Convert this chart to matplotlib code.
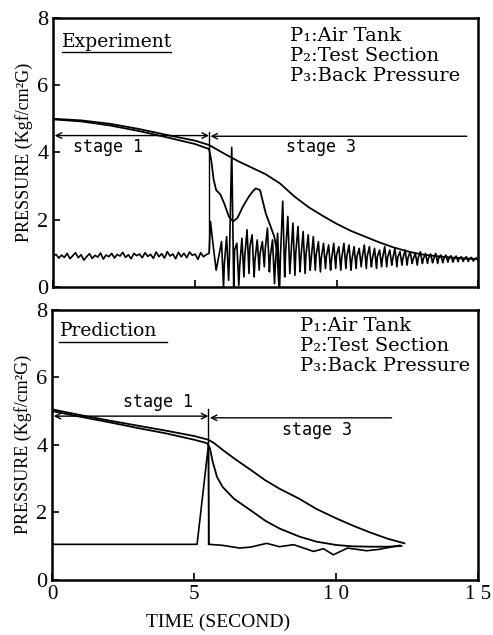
import numpy as np
import matplotlib
matplotlib.use("Agg")
import matplotlib.pyplot as plt

SERIF = ["Liberation Serif", "DejaVu Serif"]
TYPE = ["DejaVu Serif"]
SANSMONO = ["DejaVu Sans Mono"]

# ---------------- Experiment (top panel) ----------------
exp_p1_t = [0, 1, 2, 3, 4, 5, 5.5, 6.0, 6.5, 7.0, 7.5, 8.0, 8.5, 9.0, 9.5, 10.0,
            10.5, 11.0, 11.5, 12.0, 12.5, 13.0, 13.5, 14.0, 14.5, 15.0]
exp_p1 = [5.0, 4.95, 4.85, 4.7, 4.52, 4.35, 4.22, 3.98, 3.75, 3.55, 3.35, 3.08, 2.7, 2.38,
          2.12, 1.88, 1.67, 1.5, 1.33, 1.18, 1.06, 0.97, 0.92, 0.88, 0.85, 0.83]

exp_p2_t = [0, 1, 2, 3, 4, 5, 5.5, 5.58, 5.66, 5.75, 5.9, 6.05, 6.2, 6.35, 6.5, 6.7,
            6.9, 7.05, 7.15, 7.3, 7.5, 7.65, 7.8, 7.9, 7.97]
exp_p2 = [4.98, 4.92, 4.8, 4.64, 4.45, 4.25, 4.1, 3.75, 3.2, 2.88, 2.75, 2.45, 2.09, 1.95,
          2.05, 2.4, 2.68, 2.85, 2.93, 2.88, 2.19, 1.85, 1.5, 1.05, 0.0]

# back pressure before the shock (t = 0 .. 5.4)
exp_p3_pre = [0.92, 0.97, 0.86, 0.95, 0.88, 1.0, 0.84, 0.93, 1.02, 0.87, 0.96, 0.8, 0.9,
              0.99, 0.85, 0.94, 0.89, 1.01, 0.83, 0.95, 0.9, 1.0, 0.86, 0.97, 0.92, 1.03,
              0.88, 0.96, 0.84, 1.0, 0.93, 0.98, 0.87, 1.02, 0.91, 0.97, 0.85, 1.04, 0.9,
              0.99, 0.86, 1.05, 0.92, 0.98, 0.84, 1.03, 0.9, 1.0, 0.87, 1.04, 0.94, 0.98,
              0.82, 1.02, 0.9, 0.96]
exp_p3_jump_t = [5.5, 5.55, 5.65, 5.75]
exp_p3_jump = [1.0, 1.95, 1.2, 0.5]
# oscillation after the shock: peaks and troughs
exp_p3_peak = [1.35, 1.5, 4.15, 1.3, 1.45, 1.7, 1.55, 1.4, 1.35, 1.75, 1.4, 1.6, 2.55, 2.1,
               1.9, 1.8, 1.65, 1.55, 1.5, 1.35, 1.3, 1.25, 1.3, 1.2, 1.3, 1.25, 1.2, 1.15,
               1.25, 1.2, 1.15, 1.1, 1.2, 1.1, 1.15, 1.05, 1.1, 1.05, 1.0, 1.05, 1.0, 0.98,
               1.0, 0.95, 0.95, 0.93, 0.92, 0.9, 0.9, 0.88, 0.87]
exp_p3_trough = [0.0, 0.2, 0.0, 0.05, 0.3, 0.4, 0.3, 0.5, 0.6, 0.45, 0.1, 0.0, 0.3, 0.4,
                 0.35, 0.45, 0.4, 0.5, 0.5, 0.45, 0.55, 0.5, 0.55, 0.5, 0.55, 0.5, 0.55, 0.6,
                 0.55, 0.6, 0.55, 0.6, 0.6, 0.65, 0.6, 0.65, 0.65, 0.7, 0.65, 0.7, 0.7, 0.72,
                 0.7, 0.72, 0.74, 0.74, 0.75, 0.76, 0.76, 0.77, 0.78]
# mid-level wobble between each peak and trough
exp_p3_mid = [0.7, 0.9, 1.1, 0.6, 0.9, 1.2, 0.8, 1.0, 1.1, 0.9, 0.7, 0.9, 1.0, 0.8,
              1.0, 0.85, 0.95, 0.8, 0.95, 0.85, 0.9, 0.8, 0.95, 0.85, 0.9, 0.8, 0.9, 0.85,
              0.9, 0.82, 0.9, 0.85, 0.88, 0.82, 0.88, 0.84, 0.86, 0.82, 0.86, 0.83, 0.85, 0.82,
              0.85, 0.83, 0.84, 0.82, 0.84, 0.82, 0.83, 0.82, 0.82]

# ---------------- Prediction (bottom panel) ----------------
pre_p1_t = [0, 1, 2, 3, 4, 5, 5.5, 5.7, 6.0, 6.4, 7.0, 7.5, 8.0, 8.7, 9.3, 10.0, 10.6,
            11.2, 11.8, 12.4]
pre_p1 = [5.05, 4.88, 4.72, 4.57, 4.42, 4.26, 4.15, 4.05, 3.85, 3.6, 3.25, 2.95, 2.7, 2.4,
          2.1, 1.82, 1.6, 1.4, 1.22, 1.08]

pre_p2_t = [0, 1, 2, 3, 4, 5, 5.45, 5.55, 5.65, 5.8, 6.0, 6.4, 7.0, 7.5, 8.0, 8.7, 9.3,
            10.0, 10.6, 11.2, 11.8, 12.3]
pre_p2 = [5.0, 4.83, 4.67, 4.5, 4.34, 4.15, 4.05, 3.9, 3.5, 3.05, 2.75, 2.4, 2.05, 1.75,
          1.52, 1.28, 1.13, 1.03, 0.99, 0.98, 0.98, 1.0]

pre_p3_t = [0, 5.1, 5.5, 5.52, 6.0, 6.6, 7.0, 7.55, 8.0, 8.5, 9.2, 9.55, 9.9, 10.4,
            11.07, 11.5, 12.24]
pre_p3 = [1.05, 1.05, 4.0, 1.05, 1.02, 0.94, 0.97, 1.08, 0.98, 1.04, 0.84, 0.92, 0.74,
          0.94, 0.86, 0.9, 1.02]

legend_lines = ["P\u2081:Air Tank", "P\u2082:Test Section", "P\u2083:Back Pressure"]


def style_axes(ax, show_xlabels):
    ax.set_xlim(0, 15)
    ax.set_ylim(0, 8)
    ax.set_yticks([0, 2, 4, 6, 8])
    ax.set_xticks([0, 5, 10, 15])
    for s in ax.spines.values():
        s.set_linewidth(1.8)
    ax.tick_params(direction="in", length=5, width=1.2, labelsize=16)
    for lab in ax.get_yticklabels():
        lab.set_family(SERIF)
    if show_xlabels:
        ax.set_xticklabels(["0", "5", "1 0", "1 5"], family=SERIF, fontsize=15)
    else:
        ax.set_xticklabels([])
    ax.set_ylabel("PRESSURE (Kgf/cm\u00b2G)", family=SERIF, fontsize=13, labelpad=3)


def stage_marks(ax, y1, y3, x_end, div_lo, div_hi):
    ax.annotate("", xy=(0.05, y1), xytext=(5.5, y1),
                arrowprops=dict(arrowstyle="<->", lw=1.0, color="black",
                                shrinkA=0, shrinkB=0))
    ax.annotate("", xy=(5.55, y3), xytext=(x_end, y3),
                arrowprops=dict(arrowstyle="->", lw=1.0, color="black",
                                shrinkA=0, shrinkB=0))
    ax.plot([5.5, 5.5], [div_lo, div_hi], color="black", lw=1.0)


fig = plt.figure(figsize=(4.93, 6.35), dpi=100)
ax1 = fig.add_axes([0.108, 0.548, 0.862, 0.424])
ax2 = fig.add_axes([0.106, 0.087, 0.864, 0.425])

# --- top panel ---
t_pre = np.linspace(0, 5.4, len(exp_p3_pre))
t_osc = 5.94 + 0.18 * np.arange(len(exp_p3_peak))
osc_t, osc_v = [], []
for tk, hi, mid, lo in zip(t_osc, exp_p3_peak, exp_p3_mid, exp_p3_trough):
    osc_t += [tk, tk + 0.07, tk + 0.1]
    osc_v += [hi, lo, mid]
p3_t = np.concatenate([t_pre, exp_p3_jump_t, osc_t])
p3_v = np.concatenate([exp_p3_pre, exp_p3_jump, osc_v])

ax1.plot(exp_p1_t, exp_p1, color="black", lw=1.3)
ax1.plot(exp_p2_t, exp_p2, color="black", lw=1.3)
ax1.plot(p3_t, p3_v, color="black", lw=1.2)
stage_marks(ax1, 4.5, 4.48, 14.6, 1.1, 4.62)
ax1.text(0.7, 4.0, "stage 1", family=SANSMONO, fontsize=12)
ax1.text(8.2, 4.0, "stage 3", family=SANSMONO, fontsize=12)
ax1.text(0.02, 0.893, "Experiment", transform=ax1.transAxes, family=TYPE,
         fontsize=13.5)
ax1.plot([0.021, 0.278], [0.872, 0.872], transform=ax1.transAxes, color="black", lw=1.0)
for i, s in enumerate(legend_lines):
    ax1.text(0.557, 0.912 - 0.074 * i, s, transform=ax1.transAxes, family=TYPE,
             fontsize=14)
style_axes(ax1, False)

# --- bottom panel ---
ax2.plot(pre_p1_t, pre_p1, color="black", lw=1.3)
ax2.plot(pre_p2_t, pre_p2, color="black", lw=1.3)
ax2.plot(pre_p3_t, pre_p3, color="black", lw=1.2)
stage_marks(ax2, 4.85, 4.8, 11.95, 1.05, 5.05)
ax2.text(2.5, 5.13, "stage 1", family=SANSMONO, fontsize=12)
ax2.text(8.1, 4.3, "stage 3", family=SANSMONO, fontsize=12)
ax2.text(0.017, 0.905, "Prediction", transform=ax2.transAxes, family=TYPE,
         fontsize=13.5)
ax2.plot([0.017, 0.27], [0.882, 0.882], transform=ax2.transAxes, color="black", lw=1.0)
for i, s in enumerate(legend_lines):
    ax2.text(0.582, 0.92 - 0.074 * i, s, transform=ax2.transAxes, family=TYPE,
             fontsize=14)
style_axes(ax2, True)
ax2.set_xlabel("TIME (SECOND)", family=SERIF, fontsize=14)
ax2.xaxis.set_label_coords(0.39, -0.125)

fig.savefig("out.png", dpi=100)
